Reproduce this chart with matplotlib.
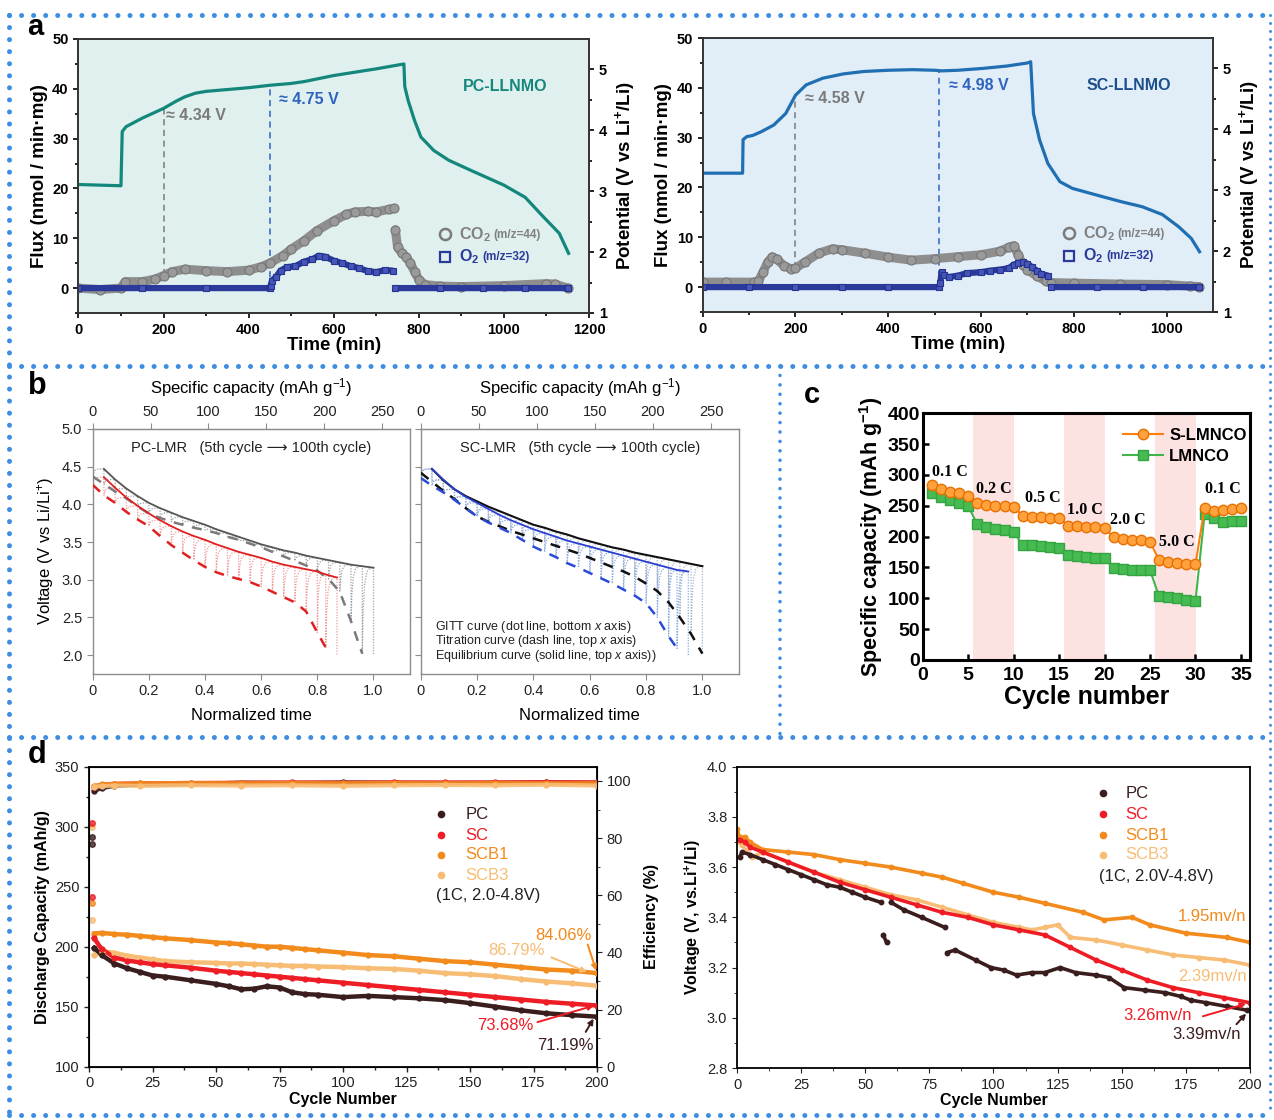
import numpy as np
import matplotlib.pyplot as plt
from matplotlib.lines import Line2D

plt.rcParams['font.family'] = ['Liberation Sans', 'DejaVu Sans']
plt.rcParams['mathtext.fontset'] = 'custom'
plt.rcParams['mathtext.rm'] = 'Liberation Sans'
plt.rcParams['mathtext.bf'] = 'Liberation Sans:bold'
plt.rcParams['mathtext.it'] = 'Liberation Sans:italic'

# ---------------- panel a : gas evolution (DEMS) ----------------
pc_pot_t = [0, 100, 103, 112, 150, 200, 230, 250, 275, 300, 350, 400, 450, 500, 530, 600, 700, 765,
            767, 775, 790, 805, 835, 870, 920, 1000, 1050, 1090, 1130, 1152]
pc_pot_v = [3.11, 3.09, 3.98, 4.06, 4.20, 4.36, 4.48, 4.55, 4.61, 4.64, 4.67, 4.70, 4.74, 4.77,
            4.80, 4.90, 5.01, 5.09, 4.72, 4.49, 4.16, 3.89, 3.67, 3.51, 3.35, 3.10, 2.90, 2.60,
            2.31, 1.98]
pc_co2_t = [0, 50, 100, 110, 150, 180, 200, 220, 250, 300, 350, 400, 430, 450, 480, 500, 530, 560,
            600, 630, 650, 680, 700, 730, 742]
pc_co2_f = [0, -0.3, 0, 1.3, 1.3, 1.8, 2.5, 3.3, 3.8, 3.5, 3.3, 3.6, 4.3, 5.0, 6.5, 7.8, 9.5, 11.5,
            13.5, 14.8, 15.3, 15.4, 15.3, 15.8, 16.0]
pc_co2_tail_t = [745, 750, 760, 770, 780, 790, 800, 815, 850, 900, 1000, 1100, 1120, 1150]
pc_co2_tail_f = [11.7, 8.2, 7.0, 6.3, 5.0, 3.3, 1.7, 0.7, 0.4, 0.3, 0.5, 0.9, 0.8, 0.0]
pc_o2_t = [0, 150, 300, 450, 452, 455, 465, 475, 490, 510, 530, 550, 565, 580, 600, 620, 640, 660,
           680, 700, 720, 740, 742, 745, 850, 950, 1050, 1150]
pc_o2_f = [0, 0, 0, 0, 0.5, 1.5, 2.3, 3.5, 4.2, 4.4, 5.3, 5.8, 6.5, 6.3, 5.5, 5.0, 4.4, 4.0,
           3.4, 3.2, 3.6, 3.5, np.nan, 0, 0, 0, 0, 0]

sc_pot_t = [0, 86, 87, 95, 108, 126, 153, 179, 200, 223, 259, 303, 347, 400, 453, 501, 515, 550,
            603, 656, 700, 707, 713, 726, 744, 770, 797, 859, 903, 947, 991, 1026, 1053, 1071]
sc_pot_v = [3.28, 3.28, 3.83, 3.88, 3.90, 3.96, 4.07, 4.26, 4.56, 4.73, 4.84, 4.91, 4.95, 4.97,
            4.98, 4.97, 4.96, 4.97, 5.00, 5.04, 5.09, 5.11, 4.26, 3.83, 3.44, 3.14, 3.03, 2.90,
            2.81, 2.73, 2.60, 2.40, 2.21, 1.99]
sc_co2_t = [0, 50, 110, 120, 130, 140, 150, 160, 175, 190, 200, 220, 250, 280, 300, 350, 400, 450,
            500, 550, 600, 640, 660, 670, 680, 690, 700, 720, 740, 750, 800, 900, 1000, 1050, 1070]
sc_co2_f = [1.0, 1.0, 1.0, 1.2, 3.0, 5.0, 6.1, 5.6, 4.3, 3.7, 3.8, 5.0, 6.8, 7.7, 7.5, 6.8, 6.0,
            5.4, 5.7, 6.1, 6.5, 7.2, 8.0, 8.3, 6.5, 4.5, 3.5, 2.2, 1.2, 0.9, 0.8, 0.6, 0.5, 0.2, 0.1]
sc_o2_t = [0, 100, 200, 300, 400, 510, 512, 515, 520, 530, 550, 570, 600, 620, 640, 660, 670, 680,
           690, 700, 710, 720, 730, 745, 747, 750, 850, 950, 1070]
sc_o2_f = [0, 0, 0, 0, 0, 0, 0.8, 3.0, 2.4, 2.0, 2.3, 2.8, 3.0, 3.3, 3.5, 3.8, 4.5, 4.8, 5.0, 4.7,
           4.0, 3.3, 2.6, 2.3, np.nan, 0, 0, 0, 0]

# ---------------- panel b : GITT ----------------
pc5_t = [0, 0.04, 0.08, 0.12, 0.16, 0.20, 0.24, 0.28, 0.32, 0.36, 0.40, 0.44, 0.48, 0.52, 0.56,
         0.60, 0.64, 0.68, 0.72, 0.76, 0.80, 0.84, 0.88, 0.92, 0.96, 1.00]
pc5_eq = [4.47, 4.47, 4.33, 4.21, 4.11, 4.02, 3.95, 3.89, 3.83, 3.78, 3.73, 3.67, 3.62, 3.57, 3.52,
          3.47, 3.43, 3.39, 3.36, 3.32, 3.29, 3.26, 3.23, 3.20, 3.18, 3.16]
pc5_tit = [4.37, 4.27, 4.17, 4.08, 3.97, 3.88, 3.82, 3.77, 3.73, 3.69, 3.66, 3.62, 3.57, 3.53, 3.48,
           3.43, 3.37, 3.31, 3.25, 3.19, 3.12, 3.01, 2.84, 2.45, 2.02, 2.00]
pc100_t = [0, 0.04, 0.08, 0.12, 0.16, 0.20, 0.24, 0.28, 0.32, 0.36, 0.40, 0.44, 0.48, 0.52, 0.56,
           0.60, 0.64, 0.68, 0.72, 0.76, 0.80, 0.83, 0.87]
pc100_eq = [4.36, 4.36, 4.22, 4.09, 3.98, 3.88, 3.79, 3.71, 3.64, 3.58, 3.53, 3.47, 3.42, 3.37,
            3.33, 3.29, 3.24, 3.20, 3.17, 3.14, 3.11, 3.07, 3.03]
pc100_tit = [4.26, 4.12, 4.02, 3.90, 3.80, 3.71, 3.58, 3.46, 3.36, 3.26, 3.17, 3.10, 3.05, 3.01,
             2.97, 2.91, 2.84, 2.77, 2.70, 2.58, 2.30, 2.10, 2.00]
sc5_t = pc5_t
sc5_eq = [4.47, 4.47, 4.32, 4.20, 4.11, 4.04, 3.97, 3.91, 3.85, 3.79, 3.73, 3.69, 3.64, 3.60, 3.55,
          3.51, 3.47, 3.43, 3.40, 3.36, 3.33, 3.30, 3.27, 3.24, 3.21, 3.18]
sc5_tit = [4.42, 4.30, 4.18, 4.07, 3.95, 3.84, 3.77, 3.71, 3.65, 3.60, 3.55, 3.50, 3.45, 3.40, 3.35,
           3.29, 3.23, 3.17, 3.11, 3.04, 2.95, 2.85, 2.70, 2.50, 2.28, 2.02]
sc100_t = [0, 0.04, 0.08, 0.12, 0.16, 0.20, 0.24, 0.28, 0.32, 0.36, 0.40, 0.44, 0.48, 0.52, 0.56,
           0.60, 0.64, 0.68, 0.72, 0.76, 0.80, 0.84, 0.88, 0.91, 0.95]
sc100_eq = [4.47, 4.47, 4.33, 4.20, 4.10, 4.02, 3.94, 3.86, 3.79, 3.73, 3.67, 3.62, 3.57, 3.52,
            3.48, 3.44, 3.40, 3.36, 3.32, 3.28, 3.24, 3.20, 3.16, 3.13, 3.11]
sc100_tit = [4.35, 4.25, 4.16, 4.06, 3.95, 3.84, 3.76, 3.69, 3.62, 3.53, 3.44, 3.37, 3.30, 3.22,
             3.16, 3.09, 3.02, 2.95, 2.87, 2.79, 2.69, 2.50, 2.25, 2.09, 2.00]
cap_per_time = 242.5

# ---------------- panel c : rate capability ----------------
cycles_c = list(range(1, 36))
s_lmnco = [284, 278, 272, 270, 266, 255, 251, 250, 249, 248, 234, 232, 232, 231, 230, 218, 217, 216,
           215, 214, 199, 196, 195, 194, 192, 162, 159, 157, 156, 155, 247, 242, 244, 245, 246]
lmnco = [270, 264, 259, 255, 250, 220, 216, 213, 210, 207, 187, 186, 185, 184, 181, 170, 168, 167,
         166, 165, 149, 147, 146, 146, 146, 103, 102, 100, 97, 95, 236, 230, 223, 225, 226]
rate_labels = ['0.1 C', '0.2 C', '0.5 C', '1.0 C', '2.0 C', '5.0 C', '0.1 C']
rate_label_x = [3.0, 7.8, 13.2, 17.8, 22.6, 28.0, 33.0]
rate_label_y = [305, 278, 262, 243, 227, 192, 277]
rate_bands = [(5.5, 10.0), (15.5, 20.0), (25.6, 30.1)]

# ---------------- panel d : long cycling ----------------
d_names = ['PC', 'SC', 'SCB1', 'SCB3']
d_colors = ['#3a1d1d', '#ee1c25', '#f28a1c', '#f8bd74']
cap_cyc = [2, 5, 10, 15, 20, 25, 30, 40, 50, 55, 60, 65, 70, 75, 80, 85, 90, 100, 110, 120, 130,
           140, 150, 160, 170, 180, 190, 200]
cap_pc = [199, 193, 186, 182, 179, 176, 175, 172, 169, 167, 164.5, 165, 167, 166, 162, 160.5, 160,
          158, 159, 158, 157, 155.5, 153, 150, 147, 144.5, 143, 141.7]
cap_sc = [207, 198, 191, 188.5, 187, 185.5, 184.5, 182.5, 180, 179, 178, 177, 176, 175, 174, 173,
          172, 170, 168, 166, 164, 162, 160, 158, 156, 154, 152.5, 151]
cap_scb1 = [211, 211.5, 210.5, 210, 209, 208, 207, 205.5, 203.5, 203, 202, 201, 200, 200, 199, 198,
            197, 195, 193, 192, 190, 188, 187, 185, 183, 181, 180, 178]
cap_scb3 = [193, 196, 195, 192.5, 191, 189.5, 188, 187, 186.5, 186, 186, 185.5, 185, 184.5, 184, 184,
            183.5, 183, 182, 181.5, 180, 178, 177, 175.5, 173, 171, 169.5, 167.5]
first_cyc_cap = [[291.7, 285.6], [302.8, 241.7], [236.7], [299.4, 222.2]]
eff_cyc = [2, 5, 10, 20, 40, 60, 80, 100, 120, 140, 160, 180, 200]
eff_pc = [96.5, 97.5, 98.3, 98.8, 99.0, 99.4, 99.3, 99.5, 99.4, 99.3, 99.4, 99.5, 99.4]
eff_sc = [98.0, 98.7, 99.0, 99.2, 99.3, 99.4, 99.5, 99.4, 99.5, 99.5, 99.5, 99.6, 99.5]
eff_scb1 = [98.3, 98.8, 99.0, 99.2, 99.3, 99.2, 99.3, 99.2, 99.3, 99.2, 99.3, 99.2, 99.2]
eff_scb3 = [98.0, 98.2, 98.4, 98.3, 98.5, 98.4, 98.5, 98.3, 98.5, 98.6, 98.5, 98.7, 98.4]

volt_pc_cyc = [1, 2, 5, 10, 15, 20, 25, 30, 35, 40, 45, 50, 56, 56.5, 57, 58.3, 59, 60, 65, 72, 81,
               81.5, 82, 85, 93, 99, 104, 109, 115, 120, 126, 132, 140, 145, 151, 159, 167, 173,
               177, 183, 191, 199]
volt_pc = [3.64, 3.66, 3.65, 3.63, 3.61, 3.59, 3.57, 3.55, 3.53, 3.52, 3.50, 3.48, 3.46, np.nan,
           3.33, 3.30, np.nan, 3.46, 3.43, 3.40, 3.36, np.nan, 3.26, 3.27, 3.23, 3.20, 3.19, 3.17,
           3.18, 3.18, 3.20, 3.18, 3.17, 3.16, 3.12, 3.11, 3.10, 3.085, 3.07, 3.06, 3.045, 3.03]
volt_sc_cyc = [1, 3, 5, 10, 20, 30, 40, 50, 60, 70, 80, 90, 100, 110, 120, 130, 140, 150, 160, 170,
               180, 190, 200]
volt_sc = [3.71, 3.70, 3.68, 3.66, 3.62, 3.58, 3.54, 3.51, 3.48, 3.45, 3.42, 3.40, 3.37, 3.35, 3.33,
           3.28, 3.23, 3.19, 3.15, 3.12, 3.10, 3.08, 3.06]
volt_scb1_cyc = [0, 1, 3, 5, 10, 20, 30, 40, 50, 60, 72, 80, 88, 100, 110, 120, 135, 143, 154, 161,
                 175, 191, 200]
volt_scb1 = [3.75, 3.72, 3.72, 3.70, 3.67, 3.66, 3.65, 3.63, 3.615, 3.60, 3.576, 3.56, 3.536, 3.50,
             3.48, 3.456, 3.42, 3.39, 3.40, 3.37, 3.337, 3.32, 3.30]
volt_scb3_cyc = [0, 2, 4, 6, 10, 20, 30, 40, 50, 60, 70, 80, 90, 100, 110, 115, 120, 125, 130, 140,
                 150, 160, 170, 180, 190, 200]
volt_scb3 = [3.70, 3.69, 3.66, 3.64, 3.66, 3.62, 3.58, 3.55, 3.52, 3.49, 3.47, 3.44, 3.41, 3.38,
             3.36, 3.35, 3.36, 3.37, 3.32, 3.31, 3.29, 3.27, 3.25, 3.24, 3.23, 3.21]

W, H = 1274, 1120
fig = plt.figure(figsize=(W / 100, H / 100), dpi=100)


def px_axes(x0, y0, x1, y1):
    return fig.add_axes([x0 / W, 1 - y1 / H, (x1 - x0) / W, (y1 - y0) / H])


def dotted(x0, y0, x1, y1, lw=3.6, gap=2.4):
    fig.add_artist(Line2D([x0 / W, x1 / W], [1 - y0 / H, 1 - y1 / H], transform=fig.transFigure,
                          color='#3d8ee2', lw=lw, linestyle=(0, (0.01, gap)),
                          dash_capstyle='round', solid_capstyle='round'))


# ======================= a =======================
def gas_panel(box, bg, xmax, pot_t, pot_v, pot_color, co2_parts, o2_t, o2_f,
              marks, tag, tag_color):
    ax = px_axes(*box)
    ax.set_facecolor(bg)
    ax.set_xlim(0, xmax)
    ax.set_ylim(-5, 50)
    ax.set_xticks(np.arange(0, xmax + 1, 200))
    ax.set_xticks(np.arange(100, xmax, 200), minor=True)
    ax.set_yticks(np.arange(0, 51, 10))
    ax.set_yticks(np.arange(-5, 50, 10), minor=True)
    ax.tick_params(which='both', direction='out', width=1.2, labelsize=10.5)
    ax.tick_params(which='minor', length=2.5)
    for lab in ax.get_xticklabels() + ax.get_yticklabels():
        lab.set_fontweight('bold')
    for s in ax.spines.values():
        s.set_linewidth(1.2)
        s.set_color('#333333')
    ax.set_xlabel('Time (min)', fontsize=13.5, fontweight='bold', labelpad=0)
    ax.set_ylabel('Flux (nmol / min·mg)', fontsize=13.5, fontweight='bold', labelpad=3)

    for t, f in co2_parts:
        ax.plot(t, f, color='#8e8e8e', lw=6.5, solid_capstyle='round', zorder=3)
        ax.plot(t, f, 'o', ms=6.5, mfc='#9a9a9a', mec='#777777', mew=0.8, zorder=4)
    ax.plot(o2_t, o2_f, color='#2b3a9a', lw=4.5, solid_capstyle='butt', zorder=5)
    ax.plot(o2_t, o2_f, 's', ms=5, mfc='#4656b8', mec='#24338f', mew=0.8, zorder=6)

    for (tx, y0, y1, col, lab, lx, ly) in marks:
        ax.plot([tx, tx], [y0, y1], ls=(0, (4, 3)), lw=1.1, color=col, zorder=2)
        ax.text(lx, ly, lab, color=col, fontsize=11.5, fontweight='bold', va='center')
    ax.text(0.835, 0.828, tag, transform=ax.transAxes, color=tag_color, fontsize=11.5,
            fontweight='bold', ha='center', va='center')

    # legend
    ax.plot([0.718], [0.287], 'o', transform=ax.transAxes, ms=8, mfc='none', mec='#7a7a7a',
            mew=1.8, clip_on=False)
    ax.plot([0.718], [0.205], 's', transform=ax.transAxes, ms=6.5, mfc='none', mec='#2b3a9a',
            mew=1.6, clip_on=False)
    t1 = ax.text(0.745, 0.287, r'CO$_{\mathbf{2}}$', transform=ax.transAxes, color='#808080',
                 fontsize=11.5, fontweight='bold', va='center')
    ax.annotate('(m/z=44)', xy=(1, 0.15), xycoords=t1, xytext=(2, 0), textcoords='offset points',
                color='#808080', fontsize=8.5, fontweight='bold', va='bottom')
    t2 = ax.text(0.745, 0.205, r'O$_{\mathbf{2}}$', transform=ax.transAxes, color='#2b3a9a',
                 fontsize=11.5, fontweight='bold', va='center')
    ax.annotate('(m/z=32)', xy=(1, 0.15), xycoords=t2, xytext=(2, 0), textcoords='offset points',
                color='#2b3a9a', fontsize=8.5, fontweight='bold', va='bottom')

    ax2 = ax.twinx()
    ax2.set_ylim(1, 5.5)
    ax2.set_yticks([1, 2, 3, 4, 5])
    ax2.set_yticks([1.5, 2.5, 3.5, 4.5], minor=True)
    ax2.tick_params(which='both', direction='out', width=1.2, labelsize=10.5)
    ax2.tick_params(which='minor', length=2.5)
    for lab in ax2.get_yticklabels():
        lab.set_fontweight('bold')
    ax2.set_ylabel(r'Potential (V vs Li$^{\mathbf{+}}$/Li)', fontsize=13.5, fontweight='bold',
                   labelpad=4)
    for s in ax2.spines.values():
        s.set_linewidth(1.2)
        s.set_color('#333333')
    ax2.plot(pot_t, pot_v, color=pot_color, lw=2.3)
    return ax


gas_panel((78.4, 39, 589, 313), '#dff0ef', 1200, pc_pot_t, pc_pot_v, '#13877c',
          [(pc_co2_t, pc_co2_f), (pc_co2_tail_t, pc_co2_tail_f)], pc_o2_t, pc_o2_f,
          [(200, 2.6, 36.0, '#7a7a7a', '≈ 4.34 V', 207, 34.6),
           (450, 0.0, 40.6, '#2f63c0', '≈ 4.75 V', 471, 37.9)],
          'PC-LLNMO', '#13877c')
gas_panel((702.7, 38, 1213, 312), '#e1eef8', 1100, sc_pot_t, sc_pot_v, '#1f6fb2',
          [(sc_co2_t, sc_co2_f)], sc_o2_t, sc_o2_f,
          [(200, 3.8, 38.6, '#7a7a7a', '≈ 4.58 V', 221, 37.8),
           (510, 0.0, 43.4, '#2f63c0', '≈ 4.98 V', 530, 40.4)],
          'SC-LLNMO', '#1b4f8c')


# ======================= b =======================
def gitt_panel(box, curves, title, show_ylabels, show_legend):
    ax = px_axes(*box)
    ax.set_xlim(0, 1.13)
    ax.set_ylim(1.75, 5.0)
    gcol = '#8c8c8c'
    for s in ax.spines.values():
        s.set_color(gcol)
        s.set_linewidth(1.0)
    ax.set_xticks([0, 0.2, 0.4, 0.6, 0.8, 1.0])
    ax.set_xticklabels(['0', '0.2', '0.4', '0.6', '0.8', '1.0'])
    ax.set_yticks([2.0, 2.5, 3.0, 3.5, 4.0, 4.5, 5.0])
    ax.set_yticklabels(['2.0', '2.5', '3.0', '3.5', '4.0', '4.5', '5.0'])
    ax.tick_params(direction='out', color=gcol, labelcolor='#222222', labelsize=10.5, length=4)
    if not show_ylabels:
        ax.tick_params(labelleft=False)
    else:
        ax.set_ylabel(r'Voltage (V vs Li/Li$^{+}$)', fontsize=12, labelpad=4)
    ax.set_xlabel('Normalized time', fontsize=12, labelpad=7)
    sec = ax.secondary_xaxis('top', functions=(lambda t: t * cap_per_time,
                                                lambda c: c / cap_per_time))
    sec.set_xticks([0, 50, 100, 150, 200, 250])
    sec.tick_params(direction='out', color=gcol, labelcolor='#222222', labelsize=10.5, length=4)
    sec.spines['top'].set_color(gcol)
    sec.set_xlabel(r'Specific capacity (mAh g$^{-1}$)', fontsize=12, labelpad=8)

    for t, eq, tit, gc, sc, dc, solid_lw in curves:
        xs, ys = [], []
        for i in range(len(t)):
            xs += [t[i], t[i]]
            ys += [eq[i], tit[i]]
            if i + 1 < len(t) and tit[i] > 2.01:
                dt = t[i + 1] - t[i]
                rise = eq[i + 1] - tit[i]
                for fx, fy in [(0.08, 0.5), (0.2, 0.8), (0.4, 0.95), (0.7, 1.0), (1.0, 1.0)]:
                    xs.append(t[i] + fx * dt)
                    ys.append(tit[i] + fy * rise)
            elif i + 1 < len(t):
                xs.append(np.nan)
                ys.append(np.nan)
        ax.plot(xs, ys, ls=(0, (1, 1.2)), lw=0.9, color=gc, zorder=2)
        tt = [a for a, b in zip(t, tit) if b > 2.01]
        vv = [b for b in tit if b > 2.01]
        ax.plot(tt, vv, ls=(0, (4, 3.5)), lw=1.8, color=dc, zorder=3)
        ax.plot(t[1:], eq[1:], color=sc, lw=solid_lw, zorder=4)

    ax.text(0.5, 0.922, title, transform=ax.transAxes, ha='center', va='center', fontsize=10.5,
            color='#222222')
    if show_legend:
        for yy, s in zip([0.193, 0.134, 0.075],
                         ['GITT curve (dot line, bottom $x$ axis)',
                          'Titration curve (dash line, top $x$ axis)',
                          'Equilibrium curve (solid line, top $x$ axis))']):
            ax.text(0.045, yy, s, transform=ax.transAxes, fontsize=9, va='center',
                    color='#222222')
    return ax


gitt_panel((92.7, 429, 410, 674),
           [(pc5_t, pc5_eq, pc5_tit, '#a0a0a0', '#555555', '#7a7a7a', 1.3),
            (pc100_t, pc100_eq, pc100_tit, '#f19a9a', '#e02020', '#e02020', 1.3)],
           'PC-LMR   (5th cycle ⟶ 100th cycle)', True, False)
gitt_panel((420.7, 429, 739, 674),
           [(sc5_t, sc5_eq, sc5_tit, '#a8b4c8', '#111111', '#111111', 1.5),
            (sc100_t, sc100_eq, sc100_tit, '#86a9e0', '#2a3fd0', '#2a4ad8', 1.3)],
           'SC-LMR   (5th cycle ⟶ 100th cycle)', False, True)

# ======================= c =======================
axc = px_axes(922.7, 413.3, 1250, 660)
for a, b in rate_bands:
    axc.axvspan(a, b, color='#fde2e2', lw=0, zorder=0)
axc.plot(cycles_c, s_lmnco, '-o', color='#ff7f0e', mfc='#ffa13d', mec='#e87000', ms=7.5, mew=1.0,
         lw=1.5, label='S-LMNCO', zorder=4)
axc.plot(cycles_c, lmnco, '-s', color='#3fb54c', mfc='#46bb52', mec='#34a541', ms=6.8, lw=1.5,
         label='LMNCO', zorder=3)
axc.set_xlim(0, 36)
axc.set_ylim(0, 400)
axc.set_xticks(range(0, 36, 5))
axc.set_yticks(range(0, 401, 50))
axc.tick_params(direction='in', width=1.8, length=4, labelsize=14)
axc.tick_params(axis='x', pad=5)
axc.tick_params(axis='y', pad=2)
for lab in axc.get_xticklabels() + axc.get_yticklabels():
    lab.set_fontweight('bold')
for s in axc.spines.values():
    s.set_linewidth(2.2)
axc.set_xlabel('Cycle number', fontsize=18, fontweight='bold', labelpad=1)
axc.set_ylabel(r'Specific capacity (mAh g$^{\mathbf{-1}}$)', fontsize=15.5, fontweight='bold',
               labelpad=2)
for lab, x, y in zip(rate_labels, rate_label_x, rate_label_y):
    axc.text(x, y, lab, family='Liberation Serif', fontweight='bold', fontsize=11.5,
             ha='center', va='center')
axc.legend(loc='upper left', bbox_to_anchor=(0.565, 1.0), frameon=False, handlelength=2.4,
           prop={'weight': 'bold', 'size': 12}, labelspacing=0.35, handletextpad=0.4)

# ======================= d =======================
axd = px_axes(89, 766.7, 597, 1066.7)
axd.set_xlim(0, 200)
axd.set_ylim(100, 350)
axd.set_xticks(range(0, 201, 25))
axd.set_xticks(np.arange(12.5, 200, 25), minor=True)
axd.set_yticks(range(100, 351, 50))
axd.set_yticks(range(125, 350, 50), minor=True)
axd.tick_params(which='both', direction='out', labelsize=10.5, width=1.0, colors='#222222')
axd.tick_params(which='minor', length=2)
axd.set_xlabel('Cycle Number', fontsize=11.5, fontweight='bold', labelpad=1)
axd.set_ylabel('Discharge Capacity (mAh/g)', fontsize=11.5, fontweight='bold', labelpad=3)
for s in axd.spines.values():
    s.set_linewidth(1.3)
cap_series = [cap_pc, cap_sc, cap_scb1, cap_scb3]
for vals, first, col in zip(cap_series[::-1], first_cyc_cap[::-1], d_colors[::-1]):
    axd.plot(cap_cyc, vals, color=col, lw=3.2, zorder=3)
    axd.plot(cap_cyc, vals, 'o', color=col, ms=3.5, zorder=4)
    axd.plot([1] * len(first), first, 'o', color=col, ms=4, alpha=0.8, zorder=4)
axe = axd.twinx()
axe.set_ylim(0, 105)
axe.set_yticks(range(0, 101, 20))
axe.set_yticks(range(10, 101, 20), minor=True)
axe.tick_params(which='both', direction='out', labelsize=10.5, colors='#222222')
axe.tick_params(which='minor', length=2)
axe.set_ylabel('Efficiency (%)', fontsize=11.5, fontweight='bold', labelpad=9)
for vals, col in zip([eff_pc, eff_sc, eff_scb1, eff_scb3], d_colors):
    axe.plot(eff_cyc, vals, color=col, lw=3.0, alpha=0.9)
    axe.plot(eff_cyc, vals, 'o', color=col, ms=3.5)
for i, (nm, col) in enumerate(zip(d_names, d_colors)):
    yy = [0.842, 0.772, 0.706, 0.639][i]
    axd.plot([0.692], [yy], 'o', color=col, ms=4.5, transform=axd.transAxes)
    axd.text(0.741, yy, nm, color=col, fontsize=12, va='center', transform=axd.transAxes)
axd.text(0.684, 0.572, '(1C, 2.0-4.8V)', fontsize=12, va='center', transform=axd.transAxes,
         color='#222222')
for txt, col, tx, ty, a0, a1 in [('84.06%', '#f28a1c', 186.7, 209.7, (196, 204), (200, 178)),
                                 ('86.79%', '#f8bd74', 168.2, 197.2, (181, 192), (197, 178)),
                                 ('73.68%', '#ee1c25', 163.9, 134.7, (175.5, 136.5), (199.8, 151.5)),
                                 ('71.19%', '#3a1d1d', 187.5, 118.0, (195, 127), (199.2, 142))]:
    axd.text(tx, ty, txt, color=col, fontsize=12, ha='center', va='center')
    axd.annotate('', xy=a1, xytext=a0,
                 arrowprops=dict(arrowstyle='-|>', color=col, lw=1.4, mutation_scale=8))

axv = px_axes(737, 766.7, 1250, 1068)
axv.set_xlim(0, 200)
axv.set_ylim(2.8, 4.0)
axv.set_xticks(range(0, 201, 25))
axv.set_xticks(np.arange(12.5, 200, 25), minor=True)
axv.set_yticks(np.arange(2.8, 4.01, 0.2))
axv.set_yticks(np.arange(2.9, 4.0, 0.2), minor=True)
axv.yaxis.set_major_formatter(plt.FormatStrFormatter('%.1f'))
axv.tick_params(which='both', direction='out', labelsize=10.5, colors='#222222')
axv.tick_params(which='minor', length=2)
axv.set_xlabel('Cycle Number', fontsize=11.5, fontweight='bold', labelpad=1)
axv.set_ylabel(r'Voltage (V, vs.Li$^{\mathbf{+}}$/Li)', fontsize=11.5, fontweight='bold',
               labelpad=3)
for s in axv.spines.values():
    s.set_linewidth(1.3)
volt_series = [(volt_pc_cyc, volt_pc), (volt_sc_cyc, volt_sc), (volt_scb1_cyc, volt_scb1),
               (volt_scb3_cyc, volt_scb3)]
for (cx, vy), col in list(zip(volt_series, d_colors))[::-1]:
    axv.plot(cx, vy, color=col, lw=2.6)
    axv.plot(cx, vy, 'o', color=col, ms=3.2)
for i, (nm, col) in enumerate(zip(d_names, d_colors)):
    yy = [0.912, 0.843, 0.773, 0.707][i]
    axv.plot([0.714], [yy], 'o', color=col, ms=4.5, transform=axv.transAxes)
    axv.text(0.757, yy, nm, color=col, fontsize=12, va='center', transform=axv.transAxes)
axv.text(0.706, 0.635, '(1C, 2.0V-4.8V)', fontsize=12, va='center', transform=axv.transAxes,
         color='#222222')
axv.text(185.3, 3.403, '1.95mv/n', color='#f28a1c', fontsize=12, ha='center', va='center')
axv.text(185.3, 3.165, '2.39mv/n', color='#f8bd74', fontsize=12, ha='center', va='center')
axv.text(164, 3.008, '3.26mv/n', color='#ee1c25', fontsize=12, ha='center', va='center')
axv.text(183, 2.933, '3.39mv/n', color='#3a1d1d', fontsize=12, ha='center', va='center')
axv.annotate('', xy=(199.5, 3.059), xytext=(180.6, 3.003),
             arrowprops=dict(arrowstyle='-|>', color='#ee1c25', lw=1.4, mutation_scale=8))
axv.annotate('', xy=(199.2, 3.025), xytext=(194, 2.966),
             arrowprops=dict(arrowstyle='-|>', color='#3a1d1d', lw=1.4, mutation_scale=8))

# ======================= labels and borders =======================
fig.text(35 / W, 1 - 27 / H, 'a', fontsize=21, fontweight='bold', ha='center', va='center')
fig.text(37 / W, 1 - 386 / H, 'b', fontsize=22, fontweight='bold', ha='center', va='center')
fig.text(812 / W, 1 - 395 / H, 'c', fontsize=21, fontweight='bold', ha='center', va='center')
fig.text(37 / W, 1 - 755 / H, 'd', fontsize=22, fontweight='bold', ha='center', va='center')

dotted(9, 15, 1270, 15)
dotted(9, 366, 1270, 366)
dotted(9, 737, 1270, 737)
dotted(9, 1115, 1270, 1115)
dotted(9, 15, 9, 1115)
dotted(1270, 15, 1270, 1115, lw=2.2, gap=2.6)
dotted(780, 366, 780, 737, lw=2.6, gap=2.6)

fig.savefig('out.png', dpi=100)
